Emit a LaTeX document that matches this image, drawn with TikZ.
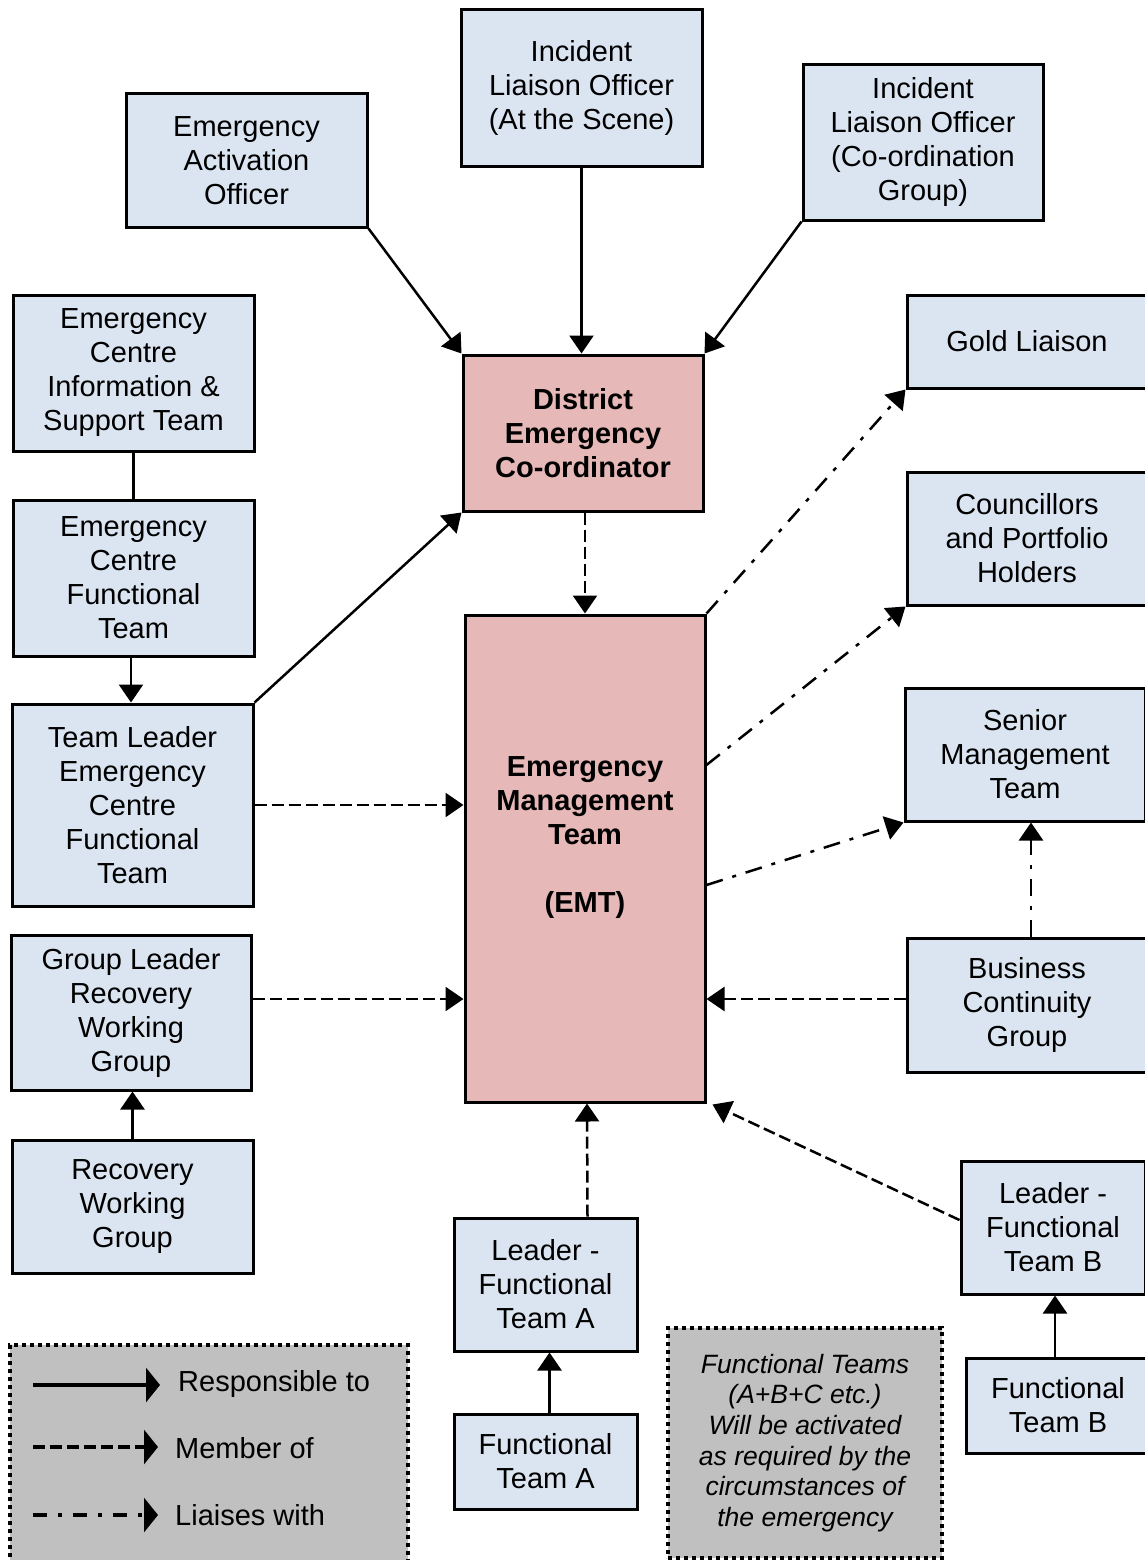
\documentclass[tikz,border=0pt]{standalone}
\usepackage{fontspec}
\setmainfont{Liberation Sans}
\usetikzlibrary{arrows.meta}
\definecolor{boxblue}{HTML}{DBE5F1}
\definecolor{boxpink}{HTML}{E6B8B7}
\definecolor{panelgrey}{HTML}{C0C0C0}
\tikzset{
  unit/.style={draw=black, line width=3pt, fill=boxblue, inner sep=0pt,
    align=center, font=\fontsize{29}{34}\selectfont},
  keyunit/.style={unit, fill=boxpink, font=\fontsize{29}{34}\selectfont\bfseries},
  panel/.style={draw=black, line width=4pt, dash pattern=on 4pt off 4pt,
    fill=panelgrey, inner sep=0pt},
  tip/.style={-{Triangle[length=18pt,width=24pt]}},
  resp/.style={tip, line width=2.5pt},
  member/.style={tip, line width=2.5pt, dash pattern=on 12pt off 5pt},
  liaise/.style={tip, line width=2.5pt, dash pattern=on 17pt off 10pt on 4pt off 10pt},
  keytip/.style={-{Triangle[length=14pt,width=34pt]}, line width=3.5pt},
  labeltext/.style={inner sep=0pt, anchor=west, font=\fontsize{29}{34}\selectfont},
}
\begin{document}
\begin{tikzpicture}[x=1pt,y=-1pt]
\useasboundingbox (0,0) rectangle (1145,1560);

% Top row
\node[unit, minimum width=241, minimum height=133] (eao) at (246.5,160.5)
  {Emergency\\Activation\\Officer};
\node[unit, minimum width=241, minimum height=156] (ilos) at (581.5,88)
  {Incident\\Liaison Officer\\(At the Scene)};
\node[unit, minimum width=240, minimum height=155] (iloc) at (923,142.5)
  {Incident\\Liaison Officer\\(Co-ordination\\Group)};

% Centre column
\node[keyunit, minimum width=240, minimum height=156] (dec) at (583,433)
  {District\\Emergency\\Co-ordinator};
\node[keyunit, minimum width=240, minimum height=487] (emt) at (585,858.5) {};
\node[inner sep=0pt, align=center, font=\fontsize{29}{34}\selectfont\bfseries]
  (emttext) at (585,838) {Emergency\\Management\\Team\\[34pt](EMT)};

% Left column
\node[unit, minimum width=241, minimum height=156] (ecist) at (133.5,373)
  {Emergency\\Centre\\Information \&\\Support Team};
\node[unit, minimum width=241, minimum height=156] (ecft) at (133.5,578)
  {Emergency\\Centre\\Functional\\Team};
\node[unit, minimum width=241, minimum height=202] (tl) at (132.5,805)
  {Team Leader\\Emergency\\Centre\\Functional\\Team};
\node[unit, minimum width=240, minimum height=155] (gl) at (131,1012.5)
  {Group Leader\\Recovery\\Working\\Group};
\node[unit, minimum width=241, minimum height=133] (rwg) at (132.5,1206.5)
  {Recovery\\Working\\Group};

% Right column
\node[unit, minimum width=240, minimum height=93] (gold) at (1027,341.5)
  {Gold Liaison};
\node[unit, minimum width=240, minimum height=133] (coun) at (1027,538.5)
  {Councillors\\and Portfolio\\Holders};
\node[unit, minimum width=240, minimum height=133] (smt) at (1025,754.5)
  {Senior\\Management\\Team};
\node[unit, minimum width=240, minimum height=134] (bcg) at (1027,1005)
  {Business\\Continuity\\Group};
\node[unit, minimum width=184, minimum height=133] (lftb) at (1053,1227.5)
  {Leader -\\Functional\\Team B};
\node[unit, minimum width=184, minimum height=95] (ftb) at (1058,1405.5)
  {Functional\\Team B};

% Bottom centre
\node[unit, minimum width=183, minimum height=133] (lfta) at (545.5,1284.5)
  {Leader -\\Functional\\Team A};
\node[unit, minimum width=183, minimum height=95] (fta) at (545.5,1461.5)
  {Functional\\Team A};

% Note panel
\node[panel, minimum width=274, minimum height=230, align=center,
  font=\fontsize{26.5}{30.6}\selectfont\itshape] (note) at (805,1443)
  {Functional Teams\\(A+B+C etc.)\\Will be activated\\as required by the\\circumstances of\\the emergency};

% Key panel
\node[panel, minimum width=398, minimum height=220] (key) at (209,1455) {};
\coordinate (k1a) at (33,1385);  \coordinate (k1b) at (160,1385);
\coordinate (k2a) at (33,1447);  \coordinate (k2b) at (158,1447);
\coordinate (k3a) at (33,1515);  \coordinate (k3b) at (158,1515);
\draw[keytip] (k1a) -- (k1b);
\draw[keytip, dash pattern=on 12pt off 5pt] (k2a) -- (k2b);
\draw[keytip, dash pattern=on 14pt off 11pt on 4pt off 11pt] (k3a) -- (k3b);
\node[labeltext] (kt1) at (178,1384) {Responsible to};
\node[labeltext] (kt2) at (175,1448) {Member of};
\node[labeltext] (kt3) at (175,1515) {Liaises with};

% Responsible to
\draw[resp] (eao.south east) -- (dec.north west);
\draw[resp] (ilos.south) -- (dec.north -| ilos.south);
\draw[resp] (iloc.south west) -- (dec.north east);
\draw[line width=2.5pt] (ecist.south) -- (ecft.north);
\draw[resp] ([xshift=-2.5pt]ecft.south) -- ([xshift=-1.5pt]tl.north);
\draw[resp] (tl.north east) -- (dec.south west);
\draw[resp] (rwg.north) -- (gl.south -| rwg.north);
\draw[resp] ([xshift=4pt]fta.north) -- ([xshift=4pt]lfta.south);
\draw[resp] ([xshift=-3pt]ftb.north) -- ([xshift=2pt]lftb.south);

% Member of
\draw[member] ([xshift=2pt]dec.south) -- (emt.north);
\draw[member] (tl.east) -- (emt.west |- tl.east);
\draw[member] (gl.east |- 0,999) -- (emt.west |- 0,999);
\draw[member] (bcg.west |- 0,999) -- (emt.east |- 0,999);
\draw[member] (lftb.west |- 0,1220) -- ([xshift=6pt,yshift=-1pt]emt.south east);
\draw[member] ([xshift=42pt]lfta.north) -- (emt.south -| 587,0);

% Liaises with
\draw[liaise] (emt.north east) -- (gold.south west);
\draw[liaise] (emt.east |- 0,765) -- (coun.south west);
\draw[liaise] (emt.east |- 0,885) -- (smt.south west);
\draw[liaise] (bcg.north -| 1031,0) -- (smt.south -| 1031,0);
\end{tikzpicture}
\end{document}
